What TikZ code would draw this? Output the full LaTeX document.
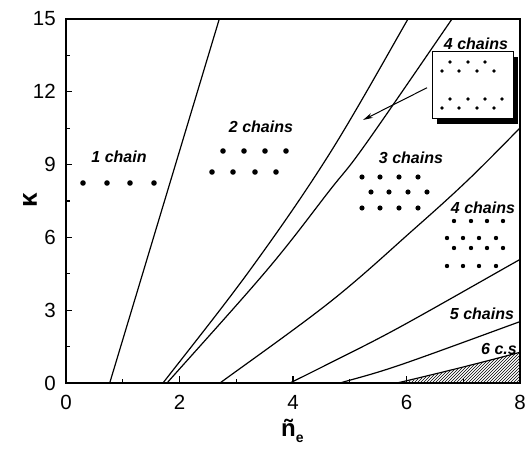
\documentclass[tikz,border=0pt]{standalone}
\usepackage{fontspec}
\setmainfont{Liberation Sans}
\usetikzlibrary{patterns,arrows.meta}
\begin{document}
\begin{tikzpicture}[x=1pt,y=-1pt,
  curve/.style={line width=1.2pt},
  lbl/.style={font=\fontsize{16}{16}\selectfont\bfseries\itshape, inner sep=0pt},
  ticklbl/.style={font=\fontsize{20.5}{20}\selectfont, inner sep=0pt},
  frame/.style={line width=1.6pt},
  tickmark/.style={line width=1.2pt}]
\useasboundingbox (0,0) rectangle (531,452);
\begin{scope}
\clip (66,19) rectangle (520,383);
\fill[pattern=north east lines] (397,384) .. controls (440,374) and (480,363) .. (521,352) -- (521,384) -- cycle;
\draw[curve] (397,383) .. controls (440,373) and (480,363) .. (521,352);
\draw[curve] (107,392) -- (222,10);
\draw[curve] plot[smooth, tension=0.6] coordinates {(157,391) (163,383) (250,270) (330,153) (408,19) (413,10)};
\draw[curve] plot[smooth, tension=0.6] coordinates {(160,391) (167,383) (267,270) (330,190) (365,145) (452,19) (458,10)};
\draw[curve] plot[smooth, tension=0.6] coordinates {(209,391) (220,383) (330,302) (413,230) (468,180) (520,128) (525,123)};
\draw[curve] plot[smooth, tension=0.6] coordinates {(274,391) (290,383) (330,363) (400,327) (519,260) (525,257)};
\draw[curve] plot[smooth, tension=0.6] coordinates {(313,391) (340,383) (400,365) (519,322) (525,320)};
\end{scope}
% ticks
\foreach \k in {0,...,8}{
  \pgfmathsetmacro{\xx}{66+56.75*\k}
  \pgfmathsetmacro{\tl}{ifthenelse(mod(\k,2)==0,7,4)}
  \draw[tickmark] (\xx,383) -- ++(0,-\tl);
}
\foreach \k in {0,...,10}{
  \pgfmathsetmacro{\yy}{383-36.4*\k}
  \pgfmathsetmacro{\tl}{ifthenelse(mod(\k,2)==0,6,4)}
  \draw[tickmark] (66,\yy) -- ++(\tl,0);
}
\draw[frame] (66,19) rectangle (520,383);
% tick labels
\foreach \v [count=\i from 0] in {0,2,4,6,8}{
  \node[ticklbl] (xl\i) at (66+113.5*\i,402) {\v};
}
\foreach \v [count=\i from 0] in {0,3,6,9,12,15}{
  \node[ticklbl, anchor=east] (yl\i) at (56,383-72.8*\i) {\v};
}
% axis labels
\node[font=\fontsize{26}{26}\selectfont\bfseries, rotate=90] (ylab) at (30,200) {κ};
\node[font=\fontsize{24}{24}\selectfont\bfseries, inner sep=0pt, anchor=south west] (xlab) at (281,443) {ñ\raisebox{-6pt}{\fontsize{14}{14}\selectfont e}};
% region labels
\node[lbl] (c1) at (119,157) {1 chain};
\node[lbl] (c2) at (261,127) {2 chains};
\node[lbl] (c3) at (411,158) {3 chains};
\node[lbl] (c4) at (483,208) {4 chains};
\node[lbl] (c5) at (482,314) {5 chains};
\node[lbl] (c6) at (499,349) {6 c.s};
% dots
\foreach \x in {83,107,130,154} \fill (\x,183) circle (2.8);
\foreach \x in {223,244,265,286} \fill (\x,151) circle (2.8);
\foreach \x in {212,233,255,276} \fill (\x,172) circle (2.8);
\foreach \x in {362,380,399,418} {\fill (\x,177) circle (2.6); \fill (\x,208) circle (2.6);}
\foreach \x in {371,389,408,427} \fill (\x,192) circle (2.6);
\foreach \x in {454,471,487,503} {\fill (\x,221) circle (2.2); \fill (\x,248) circle (2.2);}
\foreach \x in {447,463,479,496} {\fill (\x,238) circle (2.2); \fill (\x,266) circle (2.2);}
% inset
\fill (437,57) rectangle (518,124);
\node[draw, fill=white, line width=1pt, minimum width=81pt, minimum height=67pt, inner sep=0pt] (inset) at (472.5,85.5) {};
\foreach \x in {450,468,485} \fill (\x,62) circle (1.8);
\foreach \x in {442,459,477,494} {\fill (\x,71) circle (1.8); \fill (\x,108) circle (1.8);}
\foreach \x in {450,468,485,502} \fill (\x,99) circle (1.8);
\node[lbl] (c4i) at (476,44) {4 chains};
\coordinate (arrowend) at (363,120);
\draw[-{Stealth[length=10pt,width=5pt]}, line width=1pt, shorten <=5pt] (inset.west) -- (arrowend);
\end{tikzpicture}
\end{document}
